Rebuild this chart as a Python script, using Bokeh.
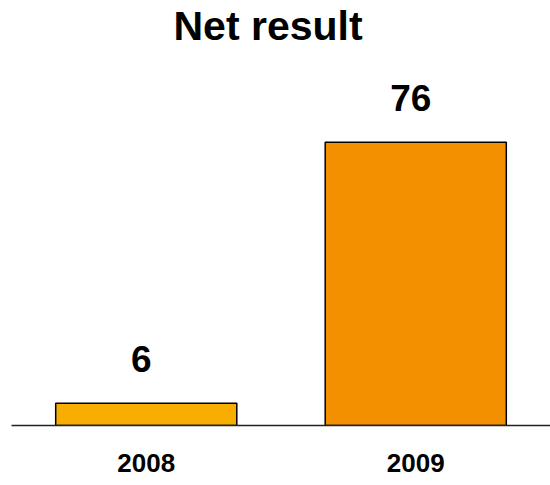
from bokeh.plotting import figure
from bokeh.models import ColumnDataSource, Range1d, FactorRange
from bokeh.core.properties import value
from bokeh.embed import file_html
from bokeh.resources import INLINE

years = ["2008", "2009"]
net_result = [6, 76]
bar_colors = ["#F7AE00", "#F39000"]
title_text = "Net result"

FONT = "Liberation Sans"

source = ColumnDataSource(dict(
    year=years,
    val=net_result,
    label=[str(v) for v in net_result],
    color=bar_colors,
))

p = figure(
    width=550, height=485,
    x_range=FactorRange(*years, range_padding=0),
    y_range=Range1d(0, 101.15),
    output_backend="svg", toolbar_location=None,
    min_border_left=11, min_border_right=0,
    min_border_top=47, min_border_bottom=60,
    title=title_text,
)

p.title.align = "left"
p.title.offset = 162
p.title.text_font = FONT
p.title.text_font_size = "41px"
p.title.text_font_style = "bold"
p.title.text_color = "black"
p.title.standoff = 0

p.vbar(x="year", top="val", width=0.672, source=source,
       fill_color="color", line_color="black", line_width=1.5)

p.text(x="year", y="val", text="label", source=source,
       text_font=value(FONT), text_font_size="37px", text_font_style="bold",
       text_align="center", text_baseline="alphabetic",
       y_offset=-44, x_offset=-5, text_color="black")

p.yaxis.visible = False
p.xgrid.visible = False
p.ygrid.visible = False
p.outline_line_color = None

ax = p.xaxis[0]
ax.axis_line_color = "#222222"
ax.axis_line_width = 1.5
ax.major_tick_line_color = None
ax.minor_tick_line_color = None
ax.major_tick_out = 0
ax.major_tick_in = 0
ax.major_label_standoff = 28
ax.major_label_text_font = FONT
ax.major_label_text_font_size = "26px"
ax.major_label_text_font_style = "bold"
ax.major_label_text_color = "black"

open("out.html", "w").write(file_html(p, INLINE))
